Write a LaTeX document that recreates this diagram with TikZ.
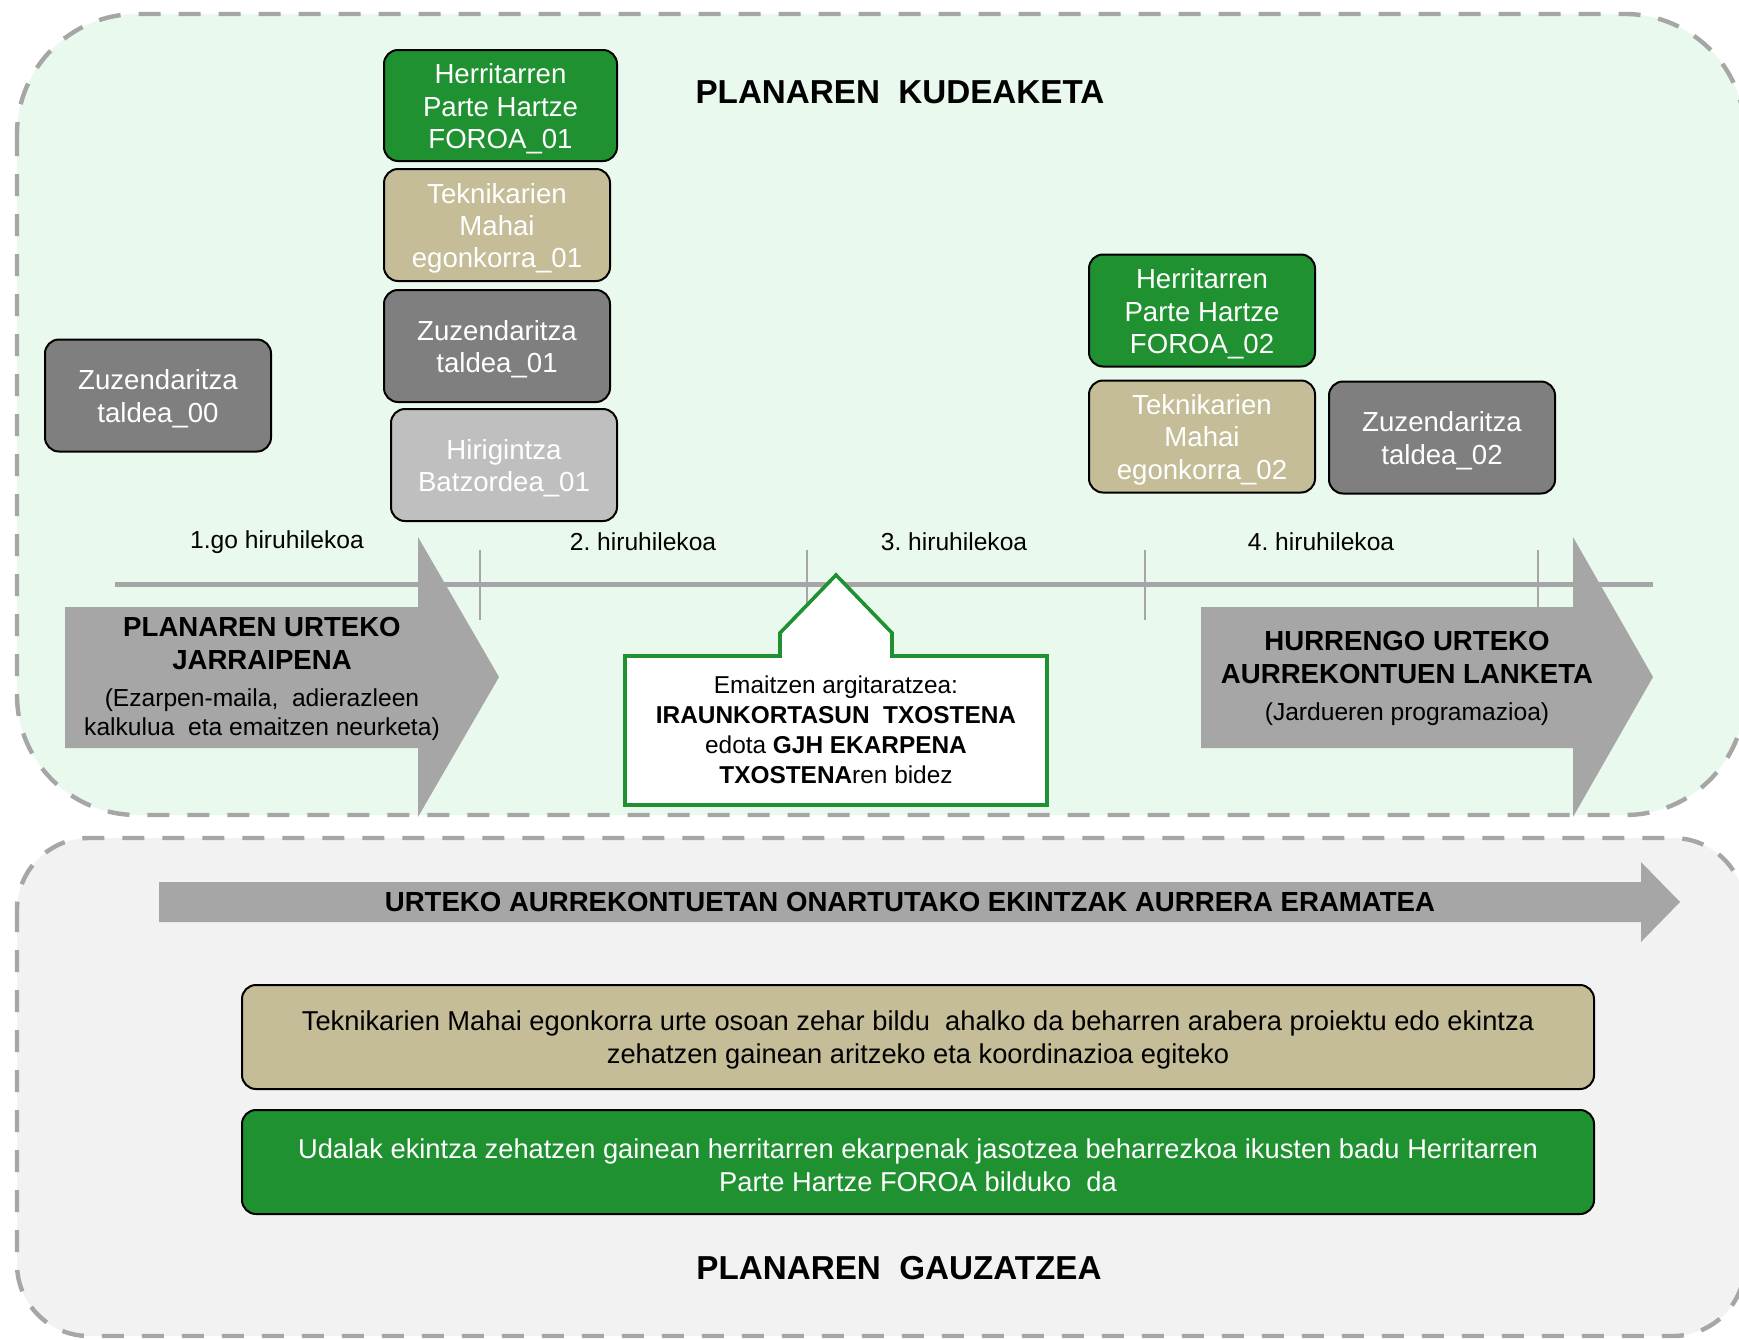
\documentclass[tikz,border=0pt]{standalone}
\usepackage{fontspec}
\setmainfont{Liberation Sans}
\frenchspacing
\definecolor{cgreen}{RGB}{31,145,49}
\definecolor{ctan}{RGB}{196,189,151}
\definecolor{cdark}{RGB}{127,127,127}
\definecolor{clight}{RGB}{191,191,191}
\definecolor{carrow}{RGB}{166,166,166}
\definecolor{cbgtop}{RGB}{234,249,237}
\definecolor{cbgbot}{RGB}{242,242,242}
\begin{document}
\begin{tikzpicture}[x=0.5pt,y=-0.5pt,
  cont/.style={draw=carrow,line width=2.2pt,dash pattern=on 11pt off 9pt},
  bx/.style={draw=black,line width=1pt,rounded corners=7pt,minimum width=113pt,minimum height=56pt,inner sep=0pt},
  btxt/.style={inner sep=0pt,align=center,text=white,font=\fontsize{13.8}{16.2}\selectfont,yshift=-1.65pt},
  bgreen/.style={bx,fill=cgreen},
  btan/.style={bx,fill=ctan},
  bdark/.style={bx,fill=cdark},
  blight/.style={bx,fill=clight},
  qlbl/.style={inner sep=0pt,font=\fontsize{12.3}{15}\selectfont},
  head/.style={inner sep=0pt,align=center,font=\bfseries\fontsize{13.8}{16.5}\selectfont},
  sub/.style={inner sep=0pt,align=center,font=\fontsize{12.3}{14.5}\selectfont},
  ttl/.style={inner sep=0pt,font=\bfseries\fontsize{16.6}{20}\selectfont},
  wide/.style={draw=black,line width=1pt,rounded corners=7pt,minimum width=676pt,minimum height=52pt,inner sep=0pt},
  wtxt/.style={inner sep=0pt,align=center,font=\fontsize{13.65}{16.5}\selectfont,yshift=-1.65pt},
  blockarrow/.style={fill=carrow},
  tick/.style={draw=carrow,line width=0.9pt},
]
\useasboundingbox (0,0) rectangle (1739,1339);
\clip (0,0) rectangle (1739,1339);
% containers
\path[cont,fill=cbgtop,rounded corners=60pt] (17,14) rectangle (1745,815);
\path[cont,fill=cbgbot,rounded corners=36pt] (17,838) rectangle (1745,1336);
% timeline
\coordinate (tl0) at (115,584);
\coordinate (tl1) at (1653,584);
\draw[carrow,line width=2.5pt] (tl0) -- (tl1);
\foreach \x in {480,807,1145,1538} \path[tick] (\x,550) -- (\x,620);
% block arrows
\path[blockarrow] (65,607) -- (418,607) -- (418,537) -- (499,677) -- (418,817) -- (418,748) -- (65,748) -- cycle;
\path[blockarrow] (1201,607) -- (1573,607) -- (1573,537) -- (1653,677) -- (1573,817) -- (1573,748) -- (1201,748) -- cycle;
\path[blockarrow] (159,882) -- (1641,882) -- (1641,862) -- (1680,902) -- (1641,942) -- (1641,922) -- (159,922) -- cycle;
% callout
\draw[cgreen,line width=1.8pt,fill=white] (625,656) -- (780,656) -- (780,633) -- (836,575) -- (892,633) -- (892,656) -- (1047,656) -- (1047,805) -- (625,805) -- cycle;
% titles
\node[ttl] (kud) at (900,92) {PLANAREN~~KUDEAKETA};
\node[ttl] (gau) at (899,1268) {PLANAREN~~GAUZATZEA};
% boxes
\node[bgreen,minimum width=116.5pt,minimum height=55.5pt,label={[btxt]center:{Herritarren\\Parte Hartze\\FOROA\_01}}] (foroa1) at (500.5,105.5) {};
\node[btan,label={[btxt]center:{Teknikarien\\Mahai\\egonkorra\_01}}] (tek1) at (497,225) {};
\node[bdark,label={[btxt]center:{Zuzendaritza\\taldea\_01}}] (zuz1) at (497,346) {};
\node[blight,label={[btxt]center:{Hirigintza\\Batzordea\_01}}] (hir1) at (504,465) {};
\node[bdark,label={[btxt]center:{Zuzendaritza\\taldea\_00}}] (zuz0) at (158,395.5) {};
\node[bgreen,label={[btxt]center:{Herritarren\\Parte Hartze\\FOROA\_02}}] (foroa2) at (1202,310.5) {};
\node[btan,label={[btxt]center:{Teknikarien\\Mahai\\egonkorra\_02}}] (tek2) at (1202,436.5) {};
\node[bdark,label={[btxt]center:{Zuzendaritza\\taldea\_02}}] (zuz2) at (1442,437.5) {};
% quarter labels
\node[qlbl] (q1) at (277,542) {1.go hiruhilekoa};
\node[qlbl] (q2) at (643,542) {2. hiruhilekoa};
\node[qlbl] (q3) at (954,542) {3. hiruhilekoa};
\node[qlbl] (q4) at (1321,542) {4. hiruhilekoa};
% arrow texts
\node[head] (lhead) at (262,643.5) {PLANAREN URTEKO\\JARRAIPENA};
\node[sub] (lsub) at (262,714.5) {(Ezarpen-maila,~~adierazleen\\kalkulua~~eta emaitzen neurketa)};
\node[head] (rhead) at (1407,657.5) {HURRENGO URTEKO\\AURREKONTUEN LANKETA};
\node[sub] (rsub) at (1407,714) {(Jardueren programazioa)};
\node[sub,font=\fontsize{12.2}{15}\selectfont] (call) at (836,730) {Emaitzen argitaratzea:\\\textbf{IRAUNKORTASUN~~TXOSTENA}\\edota \textbf{GJH EKARPENA}\\\textbf{TXOSTENA}ren bidez};
\node[head] (bar) at (910,902) {URTEKO AURREKONTUETAN ONARTUTAKO EKINTZAK AURRERA ERAMATEA};
% wide boxes
\node[wide,fill=ctan,label={[wtxt]center:{Teknikarien Mahai egonkorra urte osoan zehar bildu~~ahalko da beharren arabera proiektu edo ekintza\\zehatzen gainean aritzeko eta koordinazioa egiteko}}] (tanbox) at (918,1037) {};
\node[wide,fill=cgreen,label={[wtxt,text=white]center:{Udalak ekintza zehatzen gainean herritarren ekarpenak jasotzea beharrezkoa ikusten badu Herritarren\\Parte Hartze FOROA bilduko~~da}}] (grbox) at (918,1162) {};
\end{tikzpicture}
\end{document}
